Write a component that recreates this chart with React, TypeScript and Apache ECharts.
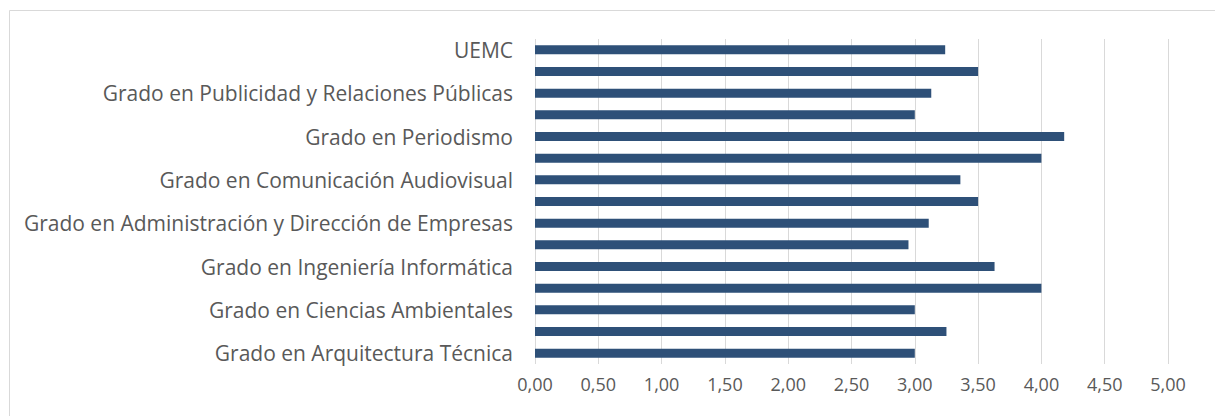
import React, { useEffect, useRef } from "react";
import * as echarts from "echarts";

// Categories from bottom to top (only every other label is shown, as in the reference)
const categories: string[] = [
  "Grado en Arquitectura Técnica",
  "Grado en Ingeniería de Organización Industrial",
  "Grado en Ciencias Ambientales",
  "Grado en Ingeniería Agrícola",
  "Grado en Ingeniería Informática",
  "Grado en Ciencias de la Actividad Física y del Deporte",
  "Grado en Administración y Dirección de Empresas",
  "Grado en Derecho",
  "Grado en Comunicación Audiovisual",
  "Grado en Marketing",
  "Grado en Periodismo",
  "Grado en Psicología",
  "Grado en Publicidad y Relaciones Públicas",
  "Grado en Traducción e Interpretación",
  "UEMC",
];

const values: number[] = [
  3.0, 3.25, 3.0, 4.0, 3.63, 2.95, 3.11, 3.5, 3.36, 4.0, 4.18, 3.0, 3.13, 3.5, 3.24,
];

const xTicks = { min: 0, max: 5, interval: 0.5 };

export default function App() {
  const ref = useRef<HTMLDivElement>(null);
  useEffect(() => {
    if (!ref.current) return;
    const chart = echarts.init(ref.current, undefined, { renderer: "svg" });
    const font = "'Open Sans', Lato, sans-serif";
    chart.setOption({
      animation: false,
      backgroundColor: "#ffffff",
      graphic: [
        {
          type: "rect",
          shape: { x: 9.5, y: 10.5, width: 1300, height: 500 },
          style: { fill: "none", stroke: "#d9d9d9", lineWidth: 1 },
          silent: true,
        },
      ],
      grid: { left: 535, right: 47, top: 39, bottom: 52, containLabel: false },
      xAxis: {
        type: "value",
        min: xTicks.min,
        max: xTicks.max,
        interval: xTicks.interval,
        axisLine: { show: false },
        axisTick: { show: false },
        splitLine: { show: true, lineStyle: { color: "#d9d9d9", width: 1 } },
        axisLabel: {
          color: "#595959",
          fontFamily: font,
          fontSize: 18,
          margin: 11,
          formatter: (v: number) => v.toFixed(2).replace(".", ","),
        },
      },
      yAxis: {
        type: "category",
        data: categories,
        axisLine: { show: false },
        axisTick: { show: false },
        splitLine: { show: false },
        axisLabel: {
          interval: 1,
          color: "#595959",
          fontFamily: font,
          fontSize: 21,
          margin: 22,
        },
      },
      series: [
        {
          type: "bar",
          data: values,
          barWidth: 9,
          itemStyle: { color: "#2e5078" },
        },
      ],
    });
    return () => chart.dispose();
  }, []);
  return (
    <div
      ref={ref}
      style={{ position: "fixed", left: 0, top: 0, width: 1215, height: 416 }}
    />
  );
}
